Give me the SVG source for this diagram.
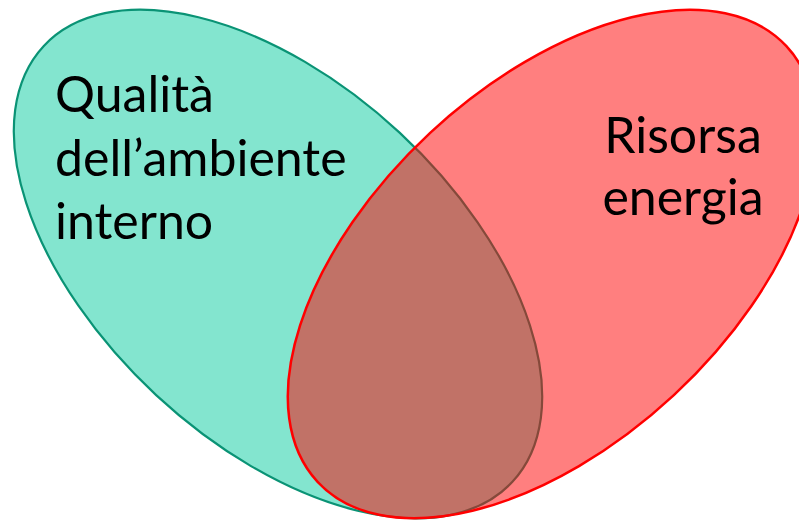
<svg xmlns="http://www.w3.org/2000/svg" width="799" height="520" viewBox="0 0 799 520">
  <style>
    .lbl { font-family: Lato, "Open Sans", "Liberation Sans", sans-serif; font-size: 50px; fill: #000000; }
    .qual { fill: #83E5CF; stroke: #0A9375; stroke-width: 2.2; }
    .ener { fill: #FF0000; fill-opacity: 0.5; stroke: #FF0000; stroke-width: 2.5; }
  </style>
  <rect width="799" height="520" fill="#FFFFFF"/>
  <g id="qualita">
    <ellipse class="qual" cx="278" cy="264" rx="320" ry="179" transform="rotate(42.9 278 264)"/>
    <text class="lbl" x="55" y="112">Qualità</text>
    <text class="lbl" x="55" y="176">dell’ambiente</text>
    <text class="lbl" x="55" y="239">interno</text>
  </g>
  <g id="energia">
    <ellipse class="ener" cx="552" cy="264" rx="320" ry="179" transform="rotate(-42.9 552 264)"/>
    <text class="lbl" x="683" y="153" text-anchor="middle">Risorsa</text>
    <text class="lbl" x="683" y="215" text-anchor="middle">energia</text>
  </g>
  <g id="connectors"></g>
</svg>
